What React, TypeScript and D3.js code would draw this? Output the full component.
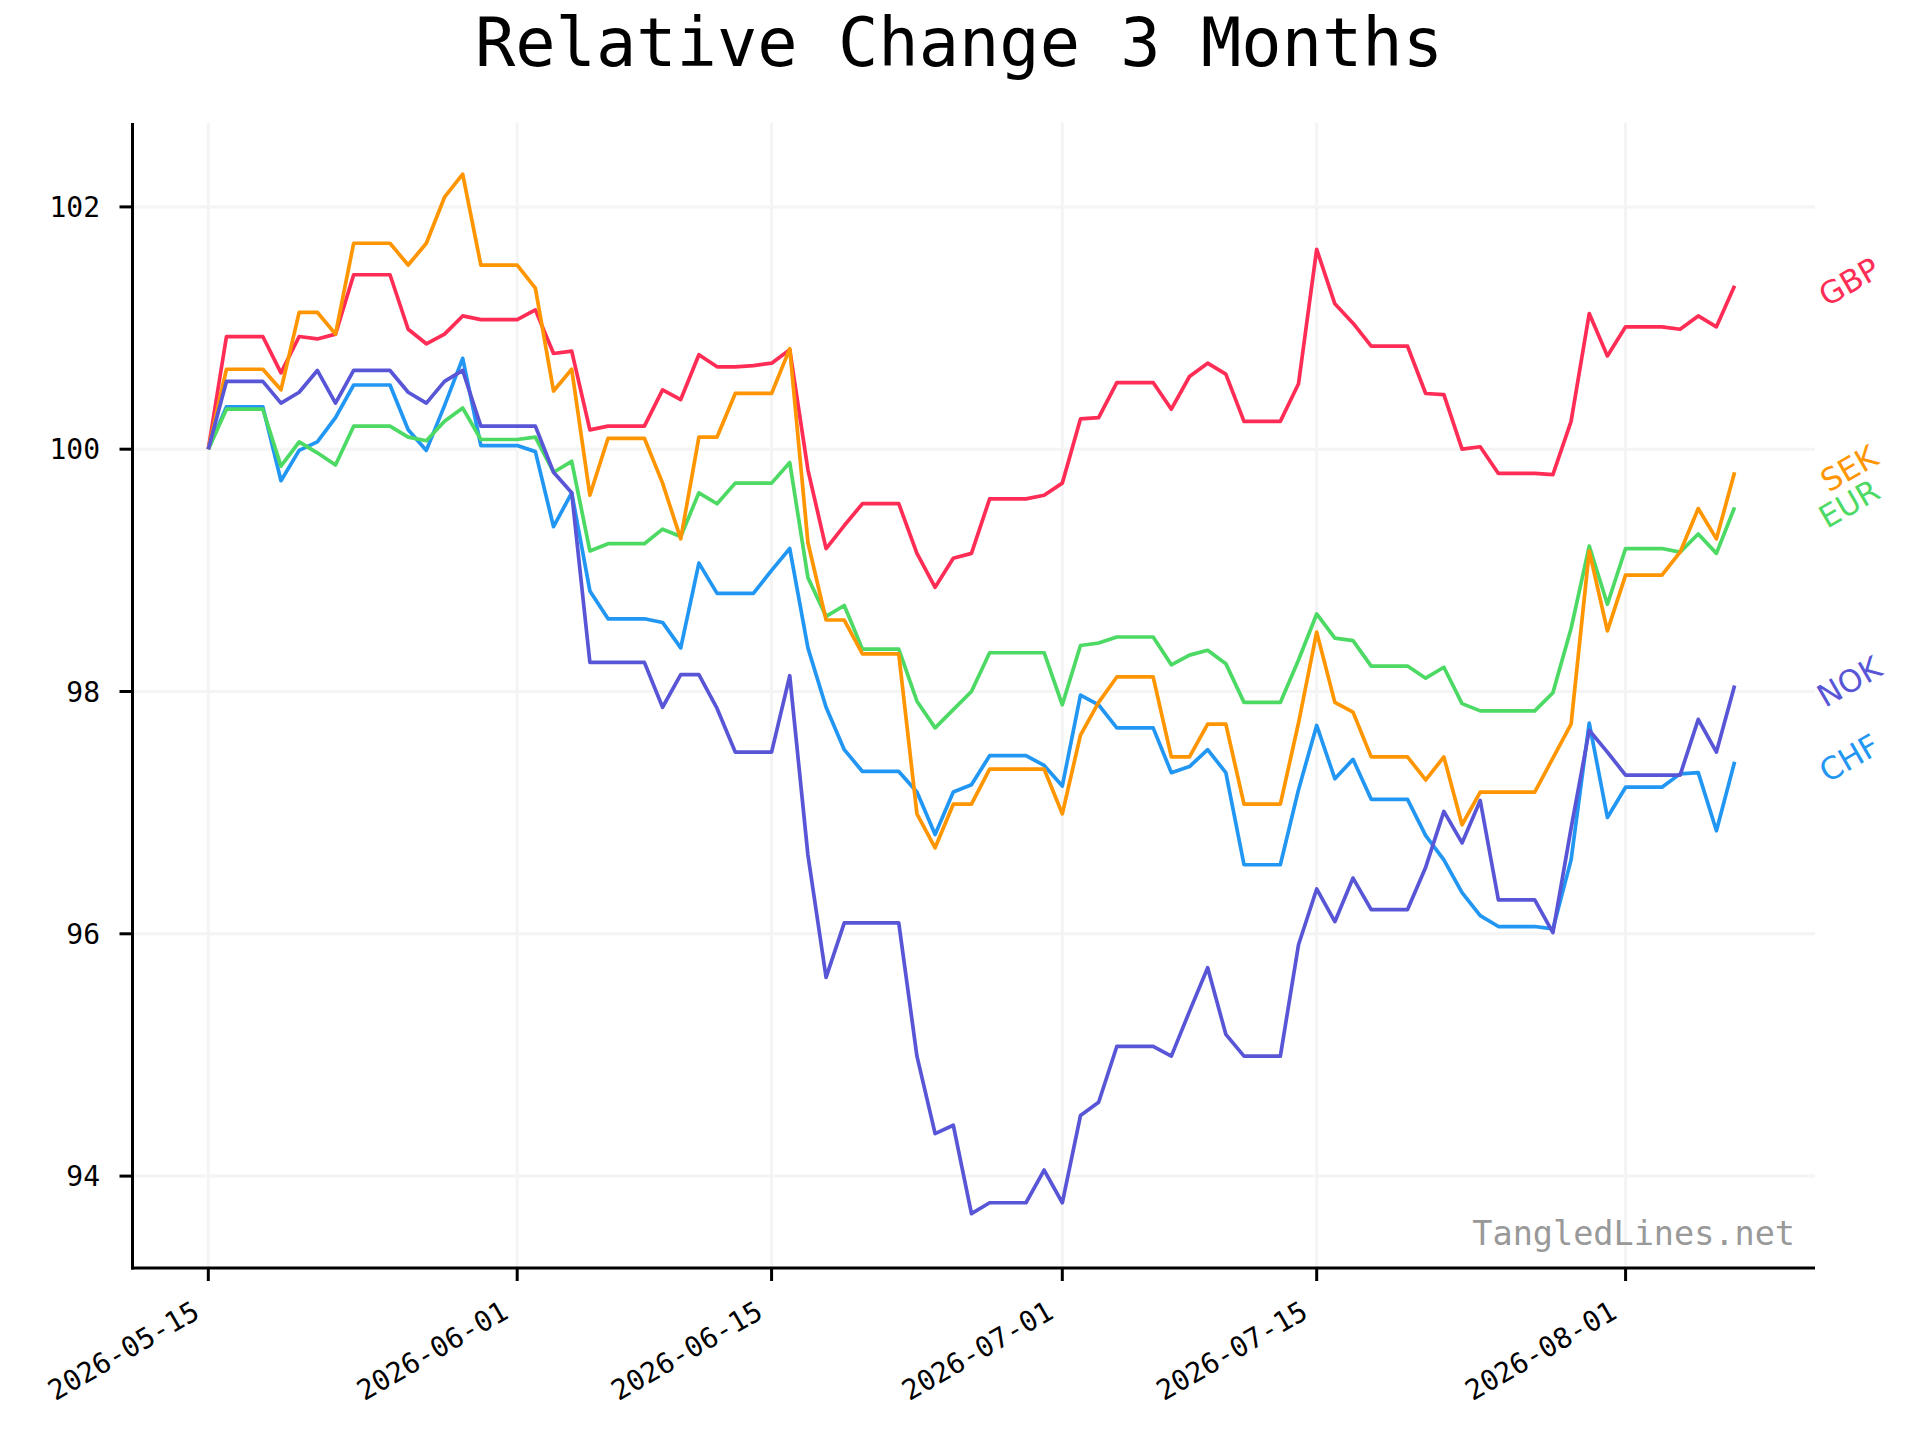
import React from "react";
import * as d3 from "d3";

// daily values, 2026-05-15 .. 2026-08-07, rebased to 100
const startDate = new Date(Date.UTC(2026, 4, 15));

const gbp = [
  100, 100.93, 100.93, 100.93, 100.63, 100.93, 100.91, 100.95, 101.44, 101.44,
  101.44, 100.99, 100.87, 100.95, 101.1, 101.07, 101.07, 101.07, 101.15, 100.79,
  100.81, 100.16, 100.19, 100.19, 100.19, 100.49, 100.41, 100.78, 100.68, 100.68,
  100.69, 100.71, 100.82, 99.83, 99.18, 99.37, 99.55, 99.55, 99.55, 99.14,
  98.86, 99.1, 99.14, 99.59, 99.59, 99.59, 99.62, 99.72, 100.25, 100.26,
  100.55, 100.55, 100.55, 100.33, 100.6, 100.71, 100.62, 100.23, 100.23, 100.23,
  100.54, 101.65, 101.2, 101.04, 100.85, 100.85, 100.85, 100.46, 100.45, 100.0,
  100.02, 99.8, 99.8, 99.8, 99.79, 100.23, 101.12, 100.77, 101.01, 101.01,
  101.01, 100.99, 101.1, 101.01, 101.35,
];

const sek = [
  100, 100.66, 100.66, 100.66, 100.49, 101.13, 101.13, 100.95, 101.7, 101.7,
  101.7, 101.52, 101.7, 102.08, 102.27, 101.52, 101.52, 101.52, 101.33, 100.48,
  100.66, 99.62, 100.09, 100.09, 100.09, 99.72, 99.26, 100.1, 100.1, 100.46,
  100.46, 100.46, 100.83, 99.23, 98.59, 98.59, 98.31, 98.31, 98.31, 96.99,
  96.71, 97.07, 97.07, 97.36, 97.36, 97.36, 97.36, 96.99, 97.64, 97.91,
  98.12, 98.12, 98.12, 97.46, 97.46, 97.73, 97.73, 97.07, 97.07, 97.07,
  97.74, 98.49, 97.91, 97.83, 97.46, 97.46, 97.46, 97.27, 97.46, 96.9,
  97.17, 97.17, 97.17, 97.17, 97.45, 97.73, 99.16, 98.5, 98.96, 98.96,
  98.96, 99.15, 99.51, 99.26, 99.81,
];

const eur = [
  100, 100.33, 100.33, 100.33, 99.86, 100.06, 99.97, 99.87, 100.19, 100.19,
  100.19, 100.1, 100.07, 100.23, 100.34, 100.08, 100.08, 100.08, 100.1, 99.81,
  99.9, 99.16, 99.22, 99.22, 99.22, 99.34, 99.28, 99.64, 99.55, 99.72,
  99.72, 99.72, 99.89, 98.94, 98.62, 98.71, 98.35, 98.35, 98.35, 97.92,
  97.7, 97.85, 98.0, 98.32, 98.32, 98.32, 98.32, 97.89, 98.38, 98.4,
  98.45, 98.45, 98.45, 98.22, 98.3, 98.34, 98.23, 97.91, 97.91, 97.91,
  98.26, 98.64, 98.44, 98.42, 98.21, 98.21, 98.21, 98.11, 98.2, 97.9,
  97.84, 97.84, 97.84, 97.84, 97.99, 98.52, 99.2, 98.72, 99.18, 99.18,
  99.18, 99.15, 99.3, 99.14, 99.52,
];

const chf = [
  100, 100.35, 100.35, 100.35, 99.74, 99.99, 100.06, 100.26, 100.53, 100.53,
  100.53, 100.16, 99.99, 100.36, 100.75, 100.03, 100.03, 100.03, 99.98, 99.36,
  99.64, 98.83, 98.6, 98.6, 98.6, 98.57, 98.36, 99.06, 98.81, 98.81,
  98.81, 99.0, 99.18, 98.36, 97.87, 97.52, 97.34, 97.34, 97.34, 97.17,
  96.82, 97.17, 97.23, 97.47, 97.47, 97.47, 97.39, 97.22, 97.97, 97.89,
  97.7, 97.7, 97.7, 97.33, 97.38, 97.52, 97.33, 96.57, 96.57, 96.57,
  97.19, 97.72, 97.28, 97.44, 97.11, 97.11, 97.11, 96.81, 96.61, 96.34,
  96.15, 96.06, 96.06, 96.06, 96.04, 96.61, 97.74, 96.96, 97.21, 97.21,
  97.21, 97.32, 97.33, 96.85, 97.42,
];

const nok = [
  100, 100.56, 100.56, 100.56, 100.38, 100.47, 100.65, 100.38, 100.65, 100.65,
  100.65, 100.47, 100.38, 100.56, 100.65, 100.19, 100.19, 100.19, 100.19, 99.81,
  99.64, 98.24, 98.24, 98.24, 98.24, 97.87, 98.14, 98.14, 97.86, 97.5,
  97.5, 97.5, 98.13, 96.65, 95.64, 96.09, 96.09, 96.09, 96.09, 94.99,
  94.35, 94.42, 93.69, 93.78, 93.78, 93.78, 94.05, 93.78, 94.5, 94.61,
  95.07, 95.07, 95.07, 94.99, 95.36, 95.72, 95.17, 94.99, 94.99, 94.99,
  95.91, 96.37, 96.1, 96.46, 96.2, 96.2, 96.2, 96.55, 97.01, 96.75,
  97.1, 96.28, 96.28, 96.28, 96.01, 96.87, 97.68, 97.5, 97.31, 97.31,
  97.31, 97.31, 97.77, 97.5, 98.05,
];

// drawing order, bottom to top
const series = [
  { name: "CHF", color: "#2196f3", values: chf },
  { name: "GBP", color: "#ff2d55", values: gbp },
  { name: "EUR", color: "#4cd964", values: eur },
  { name: "SEK", color: "#ff9500", values: sek },
  { name: "NOK", color: "#5856d6", values: nok },
];

const xTickLabels = ["2026-05-15", "2026-06-01", "2026-06-15", "2026-07-01", "2026-07-15", "2026-08-01"];
const yTicks = [94, 96, 98, 100, 102];

const W = 1920;
const H = 1440;
const left = 132.5;
const right = 1815;
const top = 123;
const bottom = 1268;
const mono = "'DejaVu Sans Mono', monospace";
const sans = "'DejaVu Sans', sans-serif";

export default function App() {
  const n = gbp.length;
  const dates = d3.range(n).map((i) => d3.utcDay.offset(startDate, i));
  const x = d3.scaleUtc().domain([dates[0], dates[n - 1]]).range([208.3, 1734.6]);
  const y = d3.scaleLinear().domain([94, 102]).range([1176.1, 206.9]);
  const parse = d3.utcParse("%Y-%m-%d");

  const line = d3
    .line<number>()
    .x((_, i) => x(dates[i]))
    .y((v) => y(v));

  return (
    <svg width={W} height={H} style={{ position: "absolute", left: 0, top: 0, background: "#fff" }}>
      <rect width={W} height={H} fill="#fff" />
      <text x={959} y={66} textAnchor="middle" fontFamily={mono} fontSize={67} fill="#000">
        Relative Change 3 Months
      </text>

      {/* grid */}
      {xTickLabels.map((t) => (
        <line key={t} x1={x(parse(t)!)} x2={x(parse(t)!)} y1={top} y2={bottom} stroke="#f4f4f4" strokeWidth={3} />
      ))}
      {yTicks.map((t) => (
        <line key={t} x1={left} x2={right} y1={y(t)} y2={y(t)} stroke="#f4f4f4" strokeWidth={3} />
      ))}

      {/* lines */}
      {series.map((s) => (
        <path key={s.name} d={line(s.values)!} fill="none" stroke={s.color} strokeWidth={3.7} strokeLinejoin="round" />
      ))}

      {/* end labels */}
      {series.map((s) => (
        <text
          key={s.name}
          transform={`translate(1849,${y(s.values[n - 1]) - 4}) rotate(-30)`}
          textAnchor="middle"
          dy="0.36em"
          fontFamily={sans}
          fontSize={31}
          fill={s.color}
        >
          {s.name}
        </text>
      ))}

      <text x={1795} y={1245} textAnchor="end" fontFamily={mono} fontSize={33.5} fill="#999">
        TangledLines.net
      </text>

      {/* axes */}
      <line x1={left} x2={left} y1={top} y2={bottom + 1.5} stroke="#000" strokeWidth={3} />
      <line x1={left - 1.5} x2={right} y1={bottom} y2={bottom} stroke="#000" strokeWidth={3} />
      {yTicks.map((t) => (
        <g key={t}>
          <line x1={left - 13} x2={left} y1={y(t)} y2={y(t)} stroke="#000" strokeWidth={3} />
          <text x={100} y={y(t)} dy="0.36em" textAnchor="end" fontFamily={mono} fontSize={28} fill="#000">
            {t}
          </text>
        </g>
      ))}
      {xTickLabels.map((t) => {
        const px = x(parse(t)!);
        return (
          <g key={t}>
            <line x1={px} x2={px} y1={bottom} y2={bottom + 13} stroke="#000" strokeWidth={3} />
            <text
              transform={`translate(${px - 7},1317) rotate(-30)`}
              textAnchor="end"
              fontFamily={mono}
              fontSize={28}
              fill="#000"
            >
              {t}
            </text>
          </g>
        );
      })}
    </svg>
  );
}
